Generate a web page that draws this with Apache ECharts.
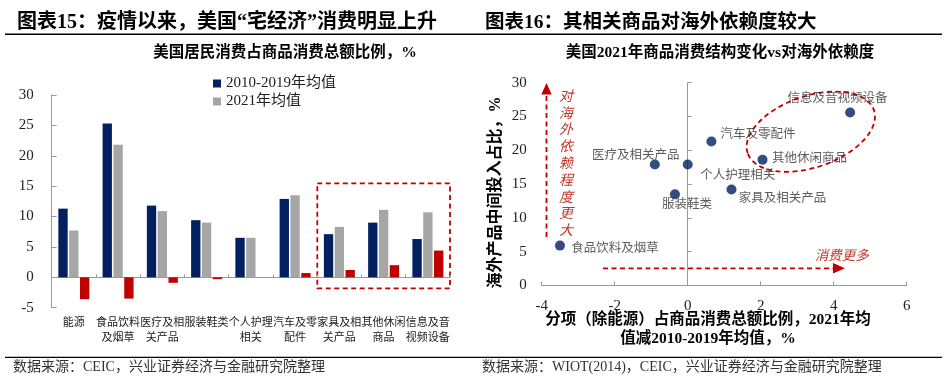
<!DOCTYPE html>
<html><head><meta charset="utf-8">
<script src="https://cdn.jsdelivr.net/npm/echarts@6/dist/echarts.min.js"></script>
<style>html,body{margin:0;padding:0;background:#fff}#c{width:951px;height:378px}</style>
</head><body><div id="c"></div>
<script>
// ---------- data: left bar chart ----------
const barCategories = ['能源','食品饮料\n及烟草','医疗及相\n关产品','服装鞋类','个人护理\n相关','汽车及零\n配件','家具及相\n关产品','其他休闲\n商品','信息及音\n视频设备'];
const seriesNames = ['2010-2019年均值','2021年均值','变化'];
const avg2010to2019 = [11.3, 25.3, 11.8, 9.4, 6.5, 12.9, 7.1, 9.0, 6.3];
const avg2021 = [7.7, 21.8, 10.9, 9.0, 6.5, 13.5, 8.3, 11.1, 10.7];
const change = [-3.6, -3.5, -0.9, -0.3, 0.0, 0.7, 1.2, 2.0, 4.4];
const barYTicks = [-5, 0, 5, 10, 15, 20, 25, 30];

// ---------- data: right scatter chart ----------
const scatterNames = ['食品饮料及烟草','医疗及相关产品','服装鞋类','个人护理相关','汽车及零配件','家具及相关产品','其他休闲商品','信息及音视频设备'];
const scatterX = [-3.5, -0.9, -0.35, 0.0, 0.65, 1.2, 2.05, 4.45];
const scatterY = [5.9, 17.9, 13.5, 17.9, 21.3, 14.2, 18.6, 25.6];
const scatterXTicks = [-4, -2, 0, 2, 4, 6];
const scatterYTicks = [0, 5, 10, 15, 20, 25, 30];

// ---------- styles (label offsets in px) ----------
const labelOffsets = [[55,1.6],[-19,-10],[12,9],[50,10],[46.6,-8.4],[51,7.4],[47,-2.7],[-12.7,-15.6]];

const SERIF = "'Liberation Serif','Noto Sans CJK SC',serif";
const NAVY = '#002060', GRAY = '#a6a6a6', RED = '#c00000', TXTRED = '#c0392b';

const chart = echarts.init(document.getElementById('c'), null, {renderer: 'canvas'});

const dash = {stroke: RED, lineWidth: 1.8, lineDash: [5, 3.5], fill: null};

chart.setOption({
  animation: false,
  textStyle: {fontFamily: SERIF},
  grid: [
    {left: 51.7, right: 501, top: 95, bottom: 70.3},
    {left: 541.7, right: 44.3, top: 82.7, bottom: 92.5}
  ],
  legend: {
    data: seriesNames.slice(0, 2), orient: 'vertical', left: 208, top: 71,
    itemWidth: 8, itemHeight: 8, itemGap: 3, icon: 'rect',
    textStyle: {fontSize: 15, color: '#222', fontFamily: SERIF}
  },
  xAxis: [
    {type: 'category', gridIndex: 0, data: barCategories,
     axisLine: {onZero: true, lineStyle: {color: '#999'}},
     axisTick: {show: true, inside: true, length: 3, lineStyle: {color: '#999'}},
     axisLabel: {interval: 0, margin: 8.5, fontSize: 11, lineHeight: 14.5, color: '#222'},
     splitLine: {show: false}},
    {type: 'value', gridIndex: 1,
     min: scatterXTicks[0], max: scatterXTicks[scatterXTicks.length - 1], interval: scatterXTicks[1] - scatterXTicks[0],
     axisLine: {onZero: false, lineStyle: {color: '#999'}},
     axisTick: {show: true, inside: true, length: 4, lineStyle: {color: '#999'}},
     axisLabel: {margin: 13, fontSize: 15, color: '#222', fontFamily: SERIF},
     splitLine: {show: false}}
  ],
  yAxis: [
    {type: 'value', gridIndex: 0, position: 'left',
     min: barYTicks[0], max: barYTicks[barYTicks.length - 1], interval: barYTicks[1] - barYTicks[0],
     axisLine: {show: true, onZero: false, lineStyle: {color: '#999'}},
     axisTick: {show: true, inside: true, length: 5, lineStyle: {color: '#999'}},
     axisLabel: {margin: 18, fontSize: 15, color: '#222', fontFamily: SERIF},
     splitLine: {show: false}},
    {type: 'value', gridIndex: 1, position: 'left',
     min: scatterYTicks[0], max: scatterYTicks[scatterYTicks.length - 1], interval: scatterYTicks[1] - scatterYTicks[0],
     axisLine: {show: false, onZero: false},
     axisTick: {show: false},
     axisLabel: {margin: 15, fontSize: 15, color: '#222', fontFamily: SERIF},
     splitLine: {show: false}},
    {type: 'value', gridIndex: 1, position: 'left',
     min: scatterYTicks[0], max: scatterYTicks[scatterYTicks.length - 1], interval: scatterYTicks[1] - scatterYTicks[0],
     axisLine: {show: true, onZero: true, lineStyle: {color: '#999'}},
     axisTick: {show: true, inside: true, length: 4, lineStyle: {color: '#999'}},
     axisLabel: {show: false},
     splitLine: {show: false}}
  ],
  series: [
    {name: seriesNames[0], type: 'bar', xAxisIndex: 0, yAxisIndex: 0, data: avg2010to2019,
     itemStyle: {color: NAVY}, barGap: '16%', barCategoryGap: '30%'},
    {name: seriesNames[1], type: 'bar', xAxisIndex: 0, yAxisIndex: 0, data: avg2021,
     itemStyle: {color: GRAY}, barGap: '16%', barCategoryGap: '30%'},
    {name: seriesNames[2], type: 'bar', xAxisIndex: 0, yAxisIndex: 0, data: change,
     itemStyle: {color: RED}, barGap: '16%', barCategoryGap: '30%'},
    {name: '依赖度', type: 'scatter', xAxisIndex: 1, yAxisIndex: 1, symbolSize: 10,
     itemStyle: {color: NAVY},
     label: {show: true, position: 'inside', formatter: '{b}', fontSize: 12.5, color: '#333',
             fontFamily: "'Noto Sans CJK SC',sans-serif"},
     data: scatterNames.map((n, i) => ({name: n, value: [scatterX[i], scatterY[i]], label: {offset: labelOffsets[i]}}))}
  ],
  graphic: [
    // headers
    {type: 'text', left: 17, top: 13, style: {text: '图表15：疫情以来，美国“宅经济”消费明显上升', font: "bold 20px 'Liberation Serif','Noto Sans CJK SC'", fill: '#000'}},
    {type: 'text', left: 485, top: 13, style: {text: '图表16：其相关商品对海外依赖度较大', font: "bold 19.5px 'Liberation Serif','Noto Sans CJK SC'", fill: '#000'}},
    {type: 'line', shape: {x1: 5, y1: 34.3, x2: 942, y2: 34.3}, style: {stroke: '#000', lineWidth: 1.5}},
    {type: 'line', shape: {x1: 5, y1: 357.3, x2: 942, y2: 357.3}, style: {stroke: '#000', lineWidth: 1.2}},
    // footers
    {type: 'text', x: 13, y: 367, style: {text: '数据来源：CEIC，兴业证券经济与金融研究院整理', font: "14px 'Liberation Serif','Noto Sans CJK SC'", fill: '#333', textVerticalAlign: 'middle'}},
    {type: 'text', x: 482, y: 367, style: {text: '数据来源：WIOT(2014)，CEIC，兴业证券经济与金融研究院整理', font: "14px 'Liberation Serif','Noto Sans CJK SC'", fill: '#333', textVerticalAlign: 'middle'}},
    // subtitles
    {type: 'text', x: 285, y: 53, style: {text: '美国居民消费占商品消费总额比例，%', font: "bold 15.5px 'Liberation Serif','Noto Sans CJK SC'", fill: '#000', textAlign: 'center', textVerticalAlign: 'middle'}},
    {type: 'text', x: 720, y: 53, style: {text: '美国2021年商品消费结构变化vs对海外依赖度', font: "bold 15.5px 'Liberation Serif','Noto Sans CJK SC'", fill: '#000', textAlign: 'center', textVerticalAlign: 'middle'}},
    // right axis names
    {type: 'text', x: 708, y: 310, style: {text: '分项（除能源）占商品消费总额比例，2021年均\n值减2010-2019年均值，%', font: "bold 15.5px 'Liberation Serif','Noto Sans CJK SC'", lineHeight: 19, fill: '#000', textAlign: 'center', textVerticalAlign: 'top'}},
    {type: 'text', x: 495.5, y: 192.5, rotation: Math.PI / 2, style: {text: '海外产品中间投入占比，%', font: "bold 16px 'Liberation Serif','Noto Sans CJK SC'", fill: '#000', textAlign: 'center', textVerticalAlign: 'middle'}},
    // left dashed rect
    {type: 'rect', shape: {x: 317.3, y: 183.3, width: 132.7, height: 105}, style: dash},
    // vertical arrow
    {type: 'line', shape: {x1: 546.5, y1: 237, x2: 546.5, y2: 94}, style: dash},
    {type: 'polygon', shape: {points: [[541.3, 94.5], [551.7, 94.5], [546.5, 83]]}, style: {fill: RED}},
    {type: 'text', x: 566, y: 87, style: {text: '对\n海\n外\n依\n赖\n程\n度\n更\n大', font: "italic 14px 'Noto Sans CJK SC'", lineHeight: 16.8, fill: TXTRED, textAlign: 'center', textVerticalAlign: 'top'}},
    // horizontal arrow
    {type: 'line', shape: {x1: 603, y1: 268.3, x2: 833, y2: 268.3}, style: dash},
    {type: 'polygon', shape: {points: [[833, 263], [833, 273.6], [845, 268.3]]}, style: {fill: RED}},
    {type: 'text', x: 841.7, y: 255, style: {text: '消费更多', font: "italic 13.5px 'Noto Sans CJK SC'", fill: TXTRED, textAlign: 'center', textVerticalAlign: 'middle'}},
    // ellipse
    {type: 'ellipse', x: 810.8, y: 131.7, rotation: 0.33, shape: {cx: 0, cy: 0, rx: 66.7, ry: 35.7}, style: dash}
  ]
});
</script>
</body></html>
